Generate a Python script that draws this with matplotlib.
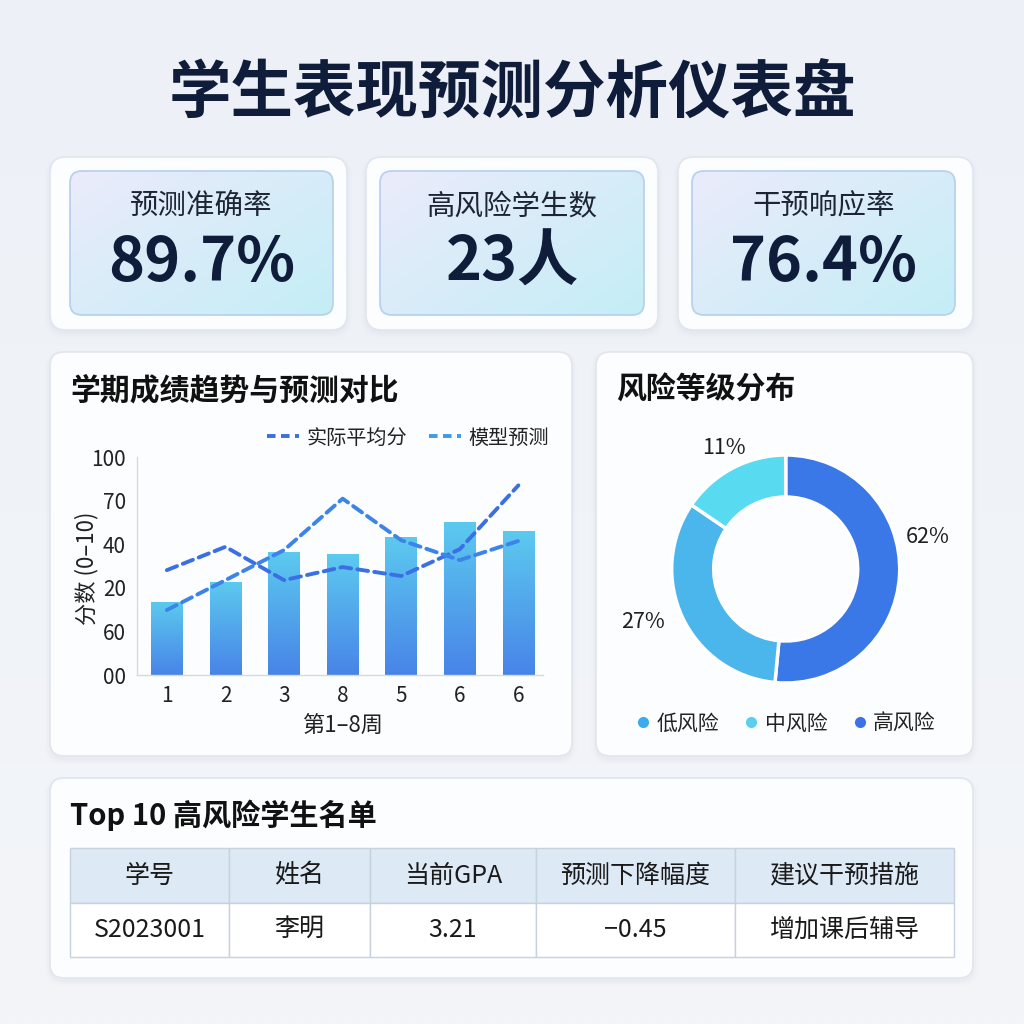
import numpy as np
import matplotlib
matplotlib.use("Agg")
import matplotlib.pyplot as plt
from matplotlib.patches import FancyBboxPatch, Rectangle
from matplotlib.lines import Line2D
from matplotlib.colors import to_rgb

plt.rcParams['font.family'] = ['Noto Sans CJK SC', 'DejaVu Sans']

# ---------------- data ----------------
title = "学生表现预测分析仪表盘"
kpi_labels = ["预测准确率", "高风险学生数", "干预响应率"]
kpi_values = ["89.7%", "23人", "76.4%"]

weeks = [1, 2, 3, 4, 5, 6, 7]
week_labels = ["1", "2", "3", "8", "5", "6", "6"]
bar_scores = [33.6, 42.7, 56.5, 55.4, 63.4, 70.2, 66.1]
actual_avg = [48.1, 58.8, 43.5, 49.5, 45.4, 57.7, 87.0]
model_pred = [29.8, 43.5, 57.3, 80.9, 61.8, 52.7, 61.5]
ytick_vals = [0, 20, 40, 60, 80, 100]
ytick_labels = ["00", "60", "20", "40", "70", "100"]

risk_levels = ["低风险", "中风险", "高风险"]
risk_share = [33.0, 15.5, 51.5]
risk_label_text = ["27%", "11%", "62%"]
risk_colors = ["#4ab6ec", "#58dbf0", "#3a78e8"]
legend_colors = ["#3fa9ef", "#5dcfee", "#3b72e6"]

table_columns = ["学号", "姓名", "当前GPA", "预测下降幅度", "建议干预措施"]
table_row = ["S2023001", "李明", "3.21", "−0.45", "增加课后辅导"]

# ---------------- helpers ----------------
W = H = 1024
fig = plt.figure(figsize=(10.24, 10.24), dpi=100)


def rect(x0, y0, x1, y1):
    return [x0 / W, 1 - y1 / H, (x1 - x0) / W, (y1 - y0) / H]


bg = fig.add_axes([0, 0, 1, 1])
bg.set_xlim(0, W)
bg.set_ylim(H, 0)
bg.axis('off')

# background gradient
yy = np.linspace(0, 1, 64)[:, None] * np.ones((1, 64))
c0 = np.array(to_rgb("#edf1f7"))
c1 = np.array(to_rgb("#f3f5f9"))
bgimg = c0[None, None, :] * (1 - yy[..., None]) + c1[None, None, :] * yy[..., None]
bg.imshow(bgimg, extent=(0, W, H, 0), aspect='auto', zorder=0, interpolation='bilinear')
bg.set_xlim(0, W)
bg.set_ylim(H, 0)


def card(x0, y0, x1, y1, r=14, fc="#fcfdfe", ec="#e1e6ee"):
    for i, a in enumerate([0.035, 0.025, 0.015]):
        s = FancyBboxPatch((x0 - 1 - i * 2, y0 + 1 - i), (x1 - x0) + 2 + i * 4, (y1 - y0) + 3 + i * 3,
                           boxstyle=f"round,pad=0,rounding_size={r + 2 + i}",
                           fc="#8a9ab5", ec="none", alpha=a, zorder=1)
        bg.add_patch(s)
    p = FancyBboxPatch((x0, y0), x1 - x0, y1 - y0, boxstyle=f"round,pad=0,rounding_size={r}",
                       fc=fc, ec=ec, lw=1.2, zorder=2)
    bg.add_patch(p)
    return p


# title
bg.text(512, 94, title, ha='center', va='center', fontsize=45, fontweight='bold', color="#0f1d3a", zorder=5)

# KPI cards
outer = [(50, 157, 347, 330), (366, 157, 658, 330), (678, 157, 973, 330)]
inner = [(70, 171, 333, 315), (380, 171, 644, 315), (692, 171, 955, 315)]
ga = np.array(to_rgb("#ebebfb"))
gb = np.array(to_rgb("#c4eef6"))
for (o, i_, lab, val) in zip(outer, inner, kpi_labels, kpi_values):
    card(*o, r=16)
    x0, y0, x1, y1 = i_
    p = FancyBboxPatch((x0, y0), x1 - x0, y1 - y0, boxstyle="round,pad=0,rounding_size=12",
                       fc="none", ec="#b8d2ee", lw=1.3, zorder=4)
    bg.add_patch(p)
    u = np.linspace(0, 1, 80)[None, :]
    v = np.linspace(0, 1, 50)[:, None]
    t = np.clip(0.55 * u + 0.45 * v, 0, 1)
    img = ga[None, None, :] * (1 - t[..., None]) + gb[None, None, :] * t[..., None]
    im = bg.imshow(img, extent=(x0, x1, y1, y0), aspect='auto', zorder=3, interpolation='bilinear')
    clip = FancyBboxPatch((x0, y0), x1 - x0, y1 - y0, boxstyle="round,pad=0,rounding_size=12",
                          transform=bg.transData)
    im.set_clip_path(clip)
    cx = (x0 + x1) / 2
    bg.text(cx, 206, lab, ha='center', va='center', fontsize=20.5, color="#1d2433", zorder=5)
    bg.text(cx, 263, val, ha='center', va='center', fontsize=44, fontweight='bold', color="#0f1d3a", zorder=5)
bg.set_xlim(0, W)
bg.set_ylim(H, 0)

# panels
card(50, 352, 572, 756)
card(596, 352, 973, 756)
card(50, 778, 973, 978)

bg.text(70, 390, "学期成绩趋势与预测对比", ha='left', va='center', fontsize=21.5, fontweight='bold',
        color="#111111", zorder=5)
bg.text(616, 390, "风险等级分布", ha='left', va='center', fontsize=21.5, fontweight='bold',
        color="#111111", zorder=5)
bg.text(70, 815, "Top 10 高风险学生名单", ha='left', va='center', fontsize=21, fontweight='bold',
        color="#111111", zorder=5)

# ---------------- bar + line chart ----------------
ax = fig.add_axes(rect(137, 457, 543, 675))
ax.set_facecolor("none")
bars = ax.bar(weeks, bar_scores, width=0.54, color='none', edgecolor='none', zorder=2)
top_c = np.array(to_rgb("#5ccaef"))
bot_c = np.array(to_rgb("#4884e8"))
gv = np.linspace(0, 1, 100)[:, None]
for b in bars:
    bx, bw, bh = b.get_x(), b.get_width(), b.get_height()
    g = bot_c[None, None, :] * (1 - gv[..., None]) + top_c[None, None, :] * gv[..., None]
    g = np.repeat(g, 2, axis=1)
    im = ax.imshow(g, extent=(bx, bx + bw, 0, bh), origin='lower', aspect='auto', zorder=2,
                   interpolation='bilinear')
    im.set_clip_path(b)

ax.plot(weeks, actual_avg, color="#3a70e3", lw=2.8, ls=(0, (2.8, 1.6)), zorder=3,
        dash_capstyle='round')
ax.plot(weeks, model_pred, color="#3d84e8", lw=2.8, ls=(0, (2.8, 1.6)), zorder=3,
        dash_capstyle='round')
ax.set_xlim(0.49, 7.42)
ax.set_ylim(0, 100)
ax.set_xticks(weeks)
ax.set_xticklabels(week_labels, fontsize=15, color="#222222")
ax.set_yticks(ytick_vals)
ax.set_yticklabels(ytick_labels, fontsize=15, color="#222222")
ax.tick_params(length=0)
ax.tick_params(axis='y', pad=8)
ax.tick_params(axis='x', pad=7)
for s in ["top", "right"]:
    ax.spines[s].set_visible(False)
for s in ["left", "bottom"]:
    ax.spines[s].set_color("#d5dae2")
    ax.spines[s].set_linewidth(1.0)
ax.set_ylabel("分数 (0–10)", fontsize=16, color="#222222")
ax.yaxis.set_label_coords(-0.094, 0.49)
ax.set_xlabel("第1–8周", fontsize=16, color="#222222")
ax.xaxis.set_label_coords(0.507, -0.18)
handles = [Line2D([], [], color="#3a6fe2", lw=2.8, ls=(0, (2.2, 1.4))),
           Line2D([], [], color="#3e9be9", lw=2.8, ls=(0, (2.2, 1.4)))]
ax.legend(handles, ["实际平均分", "模型预测"], loc='center', bbox_to_anchor=(0.667, 1.087),
          ncol=2, frameon=False, fontsize=14.5, handlelength=1.6, handletextpad=0.35,
          columnspacing=1.1, labelcolor="#222222")

# ---------------- donut ----------------
dcx, dcy = 785.7, 569
ax2 = fig.add_axes(rect(dcx - 130, dcy - 130, dcx + 130, dcy + 130))
order = [2, 0, 1]
wedges, _ = ax2.pie([risk_share[k] for k in order], colors=[risk_colors[k] for k in order],
                    startangle=90, counterclock=False, radius=1.14,
                    wedgeprops=dict(width=0.42, edgecolor='white', linewidth=2.5))
ax2.set_xlim(-1.3, 1.3)
ax2.set_ylim(-1.3, 1.3)
ax2.set_aspect('equal')
label_pos = {0: (-1.43, -0.53), 1: (-0.62, 1.21), 2: (1.42, 0.32)}
for k in range(3):
    ax2.text(*label_pos[k], risk_label_text[k], ha='center', va='center', fontsize=15.5, color="#1f1f1f")
lh = [Line2D([], [], marker='o', ls='none', markersize=8, markerfacecolor=c, markeredgecolor='none')
      for c in legend_colors]
ax2.legend(lh, risk_levels, loc='center', bbox_to_anchor=(0.5, -0.095), ncol=3, frameon=False,
           fontsize=15, handlelength=0.7, handletextpad=0.3, columnspacing=1.2, labelcolor="#222222")

# ---------------- table ----------------
cols = [70, 229, 370, 536, 735, 954]
ty0, ty1, ty2 = 848, 903, 957
for j in range(5):
    bg.add_patch(Rectangle((cols[j], ty0), cols[j + 1] - cols[j], ty1 - ty0, fc="#dde9f5",
                           ec="#c6d2df", lw=1.0, zorder=4))
    bg.add_patch(Rectangle((cols[j], ty1), cols[j + 1] - cols[j], ty2 - ty1, fc="#ffffff",
                           ec="#c6d2df", lw=1.0, zorder=4))
    cx = (cols[j] + cols[j + 1]) / 2
    bg.text(cx, (ty0 + ty1) / 2, table_columns[j], ha='center', va='center', fontsize=18,
            color="#1a1a1a", zorder=5)
    bg.text(cx, (ty1 + ty2) / 2, table_row[j], ha='center', va='center', fontsize=18,
            color="#1a1a1a", zorder=5)

fig.savefig("out.png", dpi=100)
